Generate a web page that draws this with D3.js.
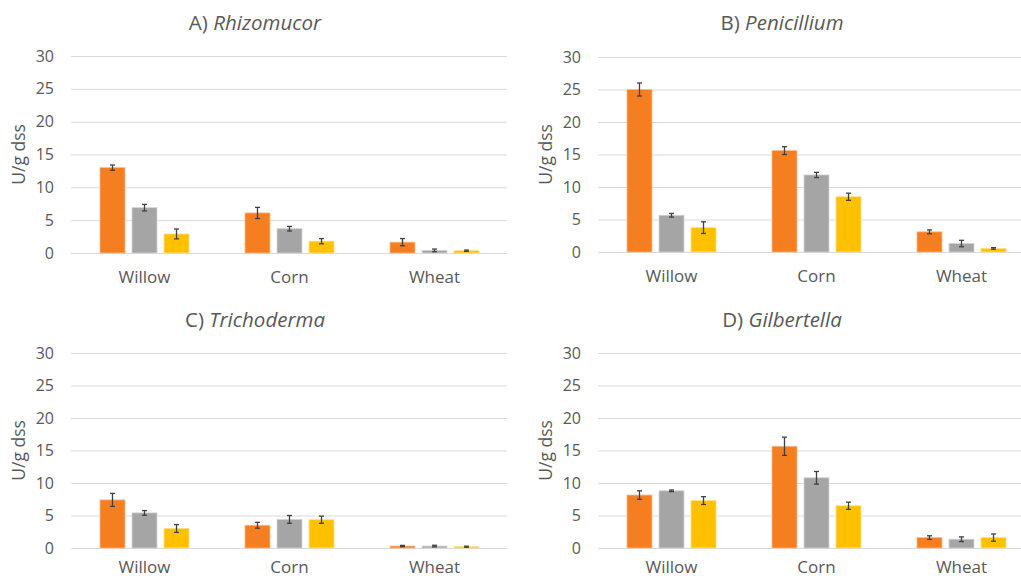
<!DOCTYPE html>
<html>
<head>
<meta charset="utf-8">
<script src="https://cdn.jsdelivr.net/npm/d3@7"></script>
<style>
  body { margin: 0; background: #fff; }
  text { font-family: "Open Sans", "Noto Sans", sans-serif; fill: #595959; }
</style>
</head>
<body>
<div id="chart"></div>
<script>
// data
var categories = [ "Willow", "Corn", "Wheat" ];
var series = [ "s1", "s2", "s3" ];
var colors = [ "#F47E20", "#A5A5A5", "#FFC000" ];
var outlines = [ "#FBB98A", "#D2D2D2", "#FFDF80" ];
var yTicks = [ 0, 5, 10, 15, 20, 25, 30 ];

var titlesPrefix = [ "A) ", "B) ", "C) ", "D) " ];
var titlesName = [ "Rhizomucor", "Penicillium", "Trichoderma", "Gilbertella" ];

// values: one row per category, one column per series
var rhizomucor = [ [ 13.0, 6.9, 2.9 ], [ 6.1, 3.7, 1.8 ], [ 1.65, 0.4, 0.35 ] ];
var rhizomucorErr = [ [ 0.4, 0.5, 0.75 ], [ 0.85, 0.35, 0.4 ], [ 0.55, 0.2, 0.1 ] ];

var penicillium = [ [ 25.0, 5.65, 3.75 ], [ 15.6, 11.85, 8.5 ], [ 3.1, 1.3, 0.55 ] ];
var penicilliumErr = [ [ 1.0, 0.28, 0.9 ], [ 0.6, 0.4, 0.55 ], [ 0.3, 0.5, 0.12 ] ];

var trichoderma = [ [ 7.4, 5.4, 3.0 ], [ 3.5, 4.4, 4.35 ], [ 0.3, 0.3, 0.2 ] ];
var trichodermaErr = [ [ 1.0, 0.36, 0.6 ], [ 0.45, 0.6, 0.55 ], [ 0.1, 0.12, 0.08 ] ];

var gilbertella = [ [ 8.15, 8.8, 7.3 ], [ 15.65, 10.8, 6.5 ], [ 1.6, 1.35, 1.6 ] ];
var gilbertellaErr = [ [ 0.65, 0.12, 0.6 ], [ 1.4, 0.97, 0.55 ], [ 0.28, 0.36, 0.56 ] ];

var panelValues = [ rhizomucor, penicillium, trichoderma, gilbertella ];
var panelErrors = [ rhizomucorErr, penicilliumErr, trichodermaErr, gilbertellaErr ];

var width = 1021, height = 581;

// panel placement (plot area)
var panels = [
  { left: 72, top: 56, bottom: 253, titleX: 255, titleY: 23, labelPad: 18 },
  { left: 599, top: 57, bottom: 252, titleX: 782, titleY: 23, labelPad: 18 },
  { left: 72, top: 353, bottom: 548, titleX: 255, titleY: 320, labelPad: 13 },
  { left: 599, top: 353, bottom: 548, titleX: 782, titleY: 320, labelPad: 13 }
];
var bandW = 145;

var svg = d3.select( "#chart" ).append( "svg" )
  .attr( "width", width )
  .attr( "height", height );

panels.forEach( function( p, i ) {

  var values = panelValues[ i ], errs = panelErrors[ i ];

  var x0 = d3.scaleBand()
    .domain( categories )
    .range( [ p.left, p.left + bandW * categories.length ] );

  var x1 = d3.scaleBand()
    .domain( series )
    .range( [ 28, 117 ] )
    .paddingInner( 0.22 );

  var y = d3.scaleLinear()
    .domain( [ 0, 30 ] )
    .range( [ p.bottom, p.top ] );

  var g = svg.append( "g" );

  // gridlines
  g.selectAll( ".grid" )
    .data( yTicks )
    .enter().append( "line" )
      .attr( "x1", p.left - 1 )
      .attr( "x2", p.left + bandW * 3 )
      .attr( "y1", d => y( d ) + 0.5 )
      .attr( "y2", d => y( d ) + 0.5 )
      .attr( "stroke", "#D9D9D9" )
      .attr( "stroke-width", 1 );

  // y axis labels
  var yAxis = d3.axisLeft( y ).tickValues( yTicks ).tickSize( 0 ).tickPadding( 18 );
  var ya = g.append( "g" )
    .attr( "transform", "translate(" + p.left + ",0)" )
    .call( yAxis );
  ya.select( ".domain" ).remove();
  ya.selectAll( "text" )
    .style( "font-size", "16px" )
    .style( "font-family", "'Open Sans', sans-serif" )
    .attr( "fill", "#595959" );

  // y title
  g.append( "text" )
    .attr( "transform", "translate(" + ( p.left - 53 ) + "," + ( ( p.top + p.bottom ) / 2 + 0 ) + ") rotate(-90)" )
    .attr( "text-anchor", "middle" )
    .attr( "dy", "0.35em" )
    .style( "font-size", "17.5px" )
    .text( "U/g dss" );

  // x axis labels
  var xAxis = d3.axisBottom( x0 ).tickSize( 0 ).tickPadding( p.labelPad );
  var xa = g.append( "g" )
    .attr( "transform", "translate(0," + p.bottom + ")" )
    .call( xAxis );
  xa.select( ".domain" ).remove();
  xa.selectAll( "text" )
    .style( "font-size", "17px" )
    .style( "font-family", "'Open Sans', sans-serif" )
    .attr( "fill", "#595959" );

  // bars
  var groups = g.selectAll( ".cat" )
    .data( categories )
    .enter().append( "g" )
      .attr( "transform", d => "translate(" + x0( d ) + ",0)" );

  groups.each( function( cat, ci ) {
    var gg = d3.select( this );
    var rows = series.map( ( s, si ) => ( { s: s, si: si, v: values[ ci ][ si ], e: errs[ ci ][ si ] } ) );

    gg.selectAll( "rect" )
      .data( rows )
      .enter().append( "rect" )
        .attr( "x", d => x1( d.s ) )
        .attr( "y", d => y( d.v ) )
        .attr( "width", x1.bandwidth() )
        .attr( "height", d => y( 0 ) - y( d.v ) )
        .attr( "fill", d => colors[ d.si ] )
        .attr( "stroke", d => outlines[ d.si ] )
        .attr( "stroke-width", 0.8 );

    // error bars
    var eb = gg.selectAll( ".err" )
      .data( rows )
      .enter().append( "g" )
        .attr( "stroke", "#404040" )
        .attr( "stroke-width", 1.3 );
    var cx = d => x1( d.s ) + x1.bandwidth() / 2;
    eb.append( "line" )
      .attr( "x1", cx ).attr( "x2", cx )
      .attr( "y1", d => y( d.v + d.e ) )
      .attr( "y2", d => y( Math.max( 0, d.v - d.e ) ) );
    eb.append( "line" )
      .attr( "x1", d => cx( d ) - 2.5 ).attr( "x2", d => cx( d ) + 2.5 )
      .attr( "y1", d => y( d.v + d.e ) ).attr( "y2", d => y( d.v + d.e ) );
    eb.append( "line" )
      .attr( "x1", d => cx( d ) - 2.5 ).attr( "x2", d => cx( d ) + 2.5 )
      .attr( "y1", d => y( Math.max( 0, d.v - d.e ) ) ).attr( "y2", d => y( Math.max( 0, d.v - d.e ) ) );
  } );

  // title
  var t = g.append( "text" )
    .attr( "x", p.titleX )
    .attr( "y", p.titleY )
    .attr( "dy", "0.35em" )
    .attr( "text-anchor", "middle" )
    .style( "font-size", "20.5px" );
  t.append( "tspan" ).text( titlesPrefix[ i ] );
  t.append( "tspan" ).style( "font-style", "italic" ).text( titlesName[ i ] );

} );
</script>
</body>
</html>
